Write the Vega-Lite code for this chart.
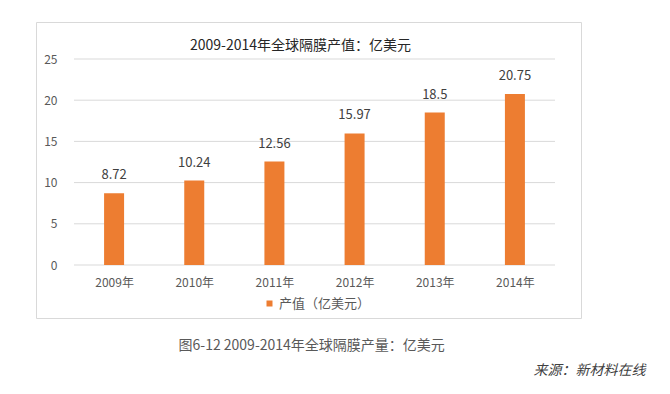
{
  "$schema": "https://vega.github.io/schema/vega-lite/v6.json",
  "width": 545,
  "height": 296,
  "autosize": "none",
  "padding": {"left": 36, "top": 22, "right": 89, "bottom": 76},
  "background": "white",
  "config": {
    "view": {"stroke": "#d9d9d9", "strokeWidth": 1},
    "font": "Noto Sans CJK SC"
  },
  "title": {
    "text": "2009-2014年全球隔膜产值：亿美元",
    "anchor": "middle",
    "frame": "group",
    "offset": -38,
    "baseline": "middle",
    "dx": -8,
    "fontSize": 14,
    "fontWeight": "normal",
    "color": "#262626",
    "font": "Noto Sans CJK SC"
  },
  "datasets": {
    "bars": [
      {"year": 2009, "value": 8.72},
      {"year": 2010, "value": 10.24},
      {"year": 2011, "value": 12.56},
      {"year": 2012, "value": 15.97},
      {"year": 2013, "value": 18.5},
      {"year": 2014, "value": 20.75}
    ],
    "grid": [{"v": 0}, {"v": 5}, {"v": 10}, {"v": 15}, {"v": 20}, {"v": 25}]
  },
  "layer": [
    {
      "data": {"name": "grid"},
      "mark": {"type": "rule", "stroke": "#d9d9d9", "strokeWidth": 1},
      "encoding": {
        "y": {"field": "v", "type": "quantitative"},
        "x": {"datum": 2008.5, "type": "quantitative"},
        "x2": {"datum": 2014.5}
      }
    },
    {
      "data": {"name": "bars"},
      "mark": {"type": "bar", "size": 20},
      "encoding": {
        "x": {
          "field": "year",
          "type": "quantitative",
          "scale": {"domain": [2008.5, 2014.5], "range": [33, 524], "nice": false, "zero": false},
          "axis": {
            "orient": "bottom",
            "offset": -53,
            "values": [2009, 2010, 2011, 2012, 2013, 2014],
            "labelExpr": "datum.value + '年'",
            "domain": false,
            "ticks": false,
            "grid": false,
            "labelPadding": 12,
            "labelFontSize": 12,
            "labelColor": "#595959",
            "labelFont": "Noto Sans CJK SC",
            "title": "图6-12 2009-2014年全球隔膜产量：亿美元",
            "titleX": 142,
            "titleY": 80,
            "titleAlign": "left",
            "titleAnchor": null,
            "titleBaseline": "middle",
            "titleFontSize": 14,
            "titleFontWeight": "normal",
            "titleColor": "#595959",
            "titleFont": "Noto Sans CJK SC"
          }
        },
        "y": {
          "field": "value",
          "type": "quantitative",
          "scale": {"domain": [0, 25], "range": [243, 37], "nice": false, "zero": true},
          "axis": {
            "orient": "left",
            "offset": -22,
            "values": [0, 5, 10, 15, 20, 25],
            "domain": false,
            "ticks": false,
            "tickSize": 0,
            "grid": false,
            "labelPadding": 1,
            "labelFontSize": 12,
            "labelColor": "#595959",
            "labelFont": "Noto Sans CJK SC",
            "title": "来源：新材料在线",
            "titleAngle": 0,
            "titleX": 587,
            "titleY": 348,
            "titleAlign": "right",
            "titleAnchor": null,
            "titleBaseline": "middle",
            "titleFontSize": 14,
            "titleFontWeight": "normal",
            "titleFontStyle": "italic",
            "titleColor": "#404040",
            "titleFont": "Noto Sans CJK SC"
          }
        },
        "color": {
          "datum": "产值（亿美元）",
          "type": "nominal",
          "scale": {"range": ["#ED7D31"]},
          "legend": {
            "orient": "none",
            "legendX": 227,
            "legendY": 275,
            "title": null,
            "padding": 0,
            "symbolType": "square",
            "symbolSize": 36,
            "symbolStrokeWidth": 0,
            "labelFontSize": 13,
            "labelColor": "#595959",
            "labelFont": "Noto Sans CJK SC",
            "labelOffset": 3
          }
        }
      }
    },
    {
      "data": {"name": "bars"},
      "mark": {"type": "text", "dy": -11, "fontSize": 13, "color": "#404040", "font": "Noto Sans CJK SC", "baseline": "bottom"},
      "encoding": {
        "x": {"field": "year", "type": "quantitative"},
        "y": {"field": "value", "type": "quantitative"},
        "text": {"field": "value", "type": "quantitative"}
      }
    }
  ]
}
